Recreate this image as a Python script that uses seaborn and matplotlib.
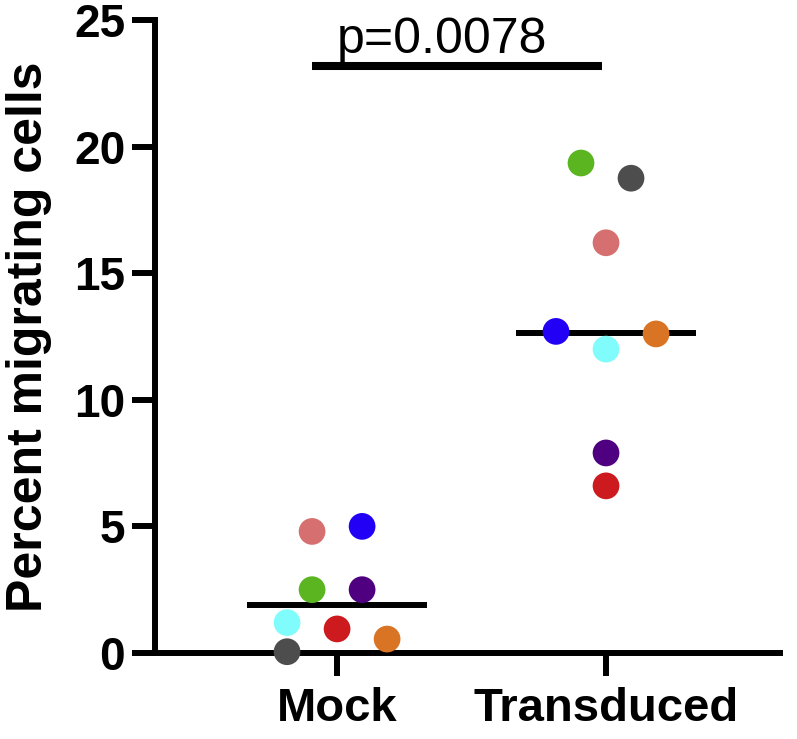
import numpy as np
import pandas as pd
import matplotlib
matplotlib.use("Agg")
import matplotlib.pyplot as plt
import seaborn as sns

# -------------------------------
# ДАНІ
# -------------------------------
groups = ["Mock", "Transduced"]
donors = ["grey", "cyan", "red", "orange", "green", "purple", "salmon", "blue"]
mock_values = [0.05, 1.2, 0.95, 0.55, 2.5, 2.5, 4.8, 5.0]
transduced_values = [18.75, 12.0, 6.6, 12.6, 19.35, 7.9, 16.2, 12.7]
medians = [1.9, 12.65]
p_text = "p=0.0078"

donor_colors = {
    "grey": "#4d4d4d", "cyan": "#80fcfc", "red": "#cc1a1e", "orange": "#d97424",
    "green": "#5ab521", "purple": "#4f0080", "salmon": "#d67070", "blue": "#2200f5",
}

# горизонтальне зміщення точок (як у GraphPad scatter)
mock_shift = [-0.186, -0.186, 0.0, 0.186, -0.093, 0.093, -0.093, 0.093]
trans_shift = [0.093, 0.0, 0.0, 0.186, -0.093, 0.0, 0.0, -0.186]

df = pd.DataFrame({
    "group": ["Mock"] * 8 + ["Transduced"] * 8,
    "donor": donors * 2,
    "value": mock_values + transduced_values,
})
df["x"] = df["group"].map({g: i for i, g in enumerate(groups)}) + np.array(mock_shift + trans_shift)

sns.set_style("ticks")
plt.rcParams["font.family"] = ["Liberation Sans", "DejaVu Sans"]
plt.rcParams.update({
    "text.color": "black", "axes.edgecolor": "black", "axes.labelcolor": "black",
    "xtick.color": "black", "ytick.color": "black",
})

fig = plt.figure(figsize=(7.97, 7.39), dpi=100)
ax = fig.add_axes([0.1945, 0.1164, 0.7842, 0.8566])

sns.scatterplot(data=df, x="x", y="value", hue="donor", palette=donor_colors,
                s=370, edgecolor="none", legend=False, ax=ax, clip_on=False, zorder=3)

# медіани
for i, m in enumerate(medians):
    ax.plot([i - 0.335, i + 0.335], [m, m], color="black", lw=4.3, zorder=2,
            solid_capstyle="butt")

# p-value
ax.plot([-0.093, 0.985], [23.18, 23.18], color="black", lw=5.8, clip_on=False,
        solid_capstyle="butt")
ax.text(0.39, 23.7, p_text, ha="center", va="baseline", fontsize=36)

ax.set_xlim(-0.677, 1.647)
ax.set_ylim(0, 25)
ax.set_xticks(range(len(groups)))
ax.set_xticklabels(groups, fontsize=34, fontweight="bold")
ax.set_yticks([0, 5, 10, 15, 20, 25])
ax.set_yticklabels(["0", "5", "10", "15", "20", "25"], fontsize=33, fontweight="bold")
ax.set_xlabel("")
ax.set_ylabel("Percent migrating cells", fontsize=36, fontweight="bold", labelpad=16)
ax.tick_params(axis="both", width=4.3, length=16.5)
ax.tick_params(axis="y", pad=5)
ax.tick_params(axis="x", pad=8)

sns.despine(ax=ax)
for side in ["left", "bottom"]:
    ax.spines[side].set_linewidth(4.3)

fig.savefig("out.png", dpi=100)
